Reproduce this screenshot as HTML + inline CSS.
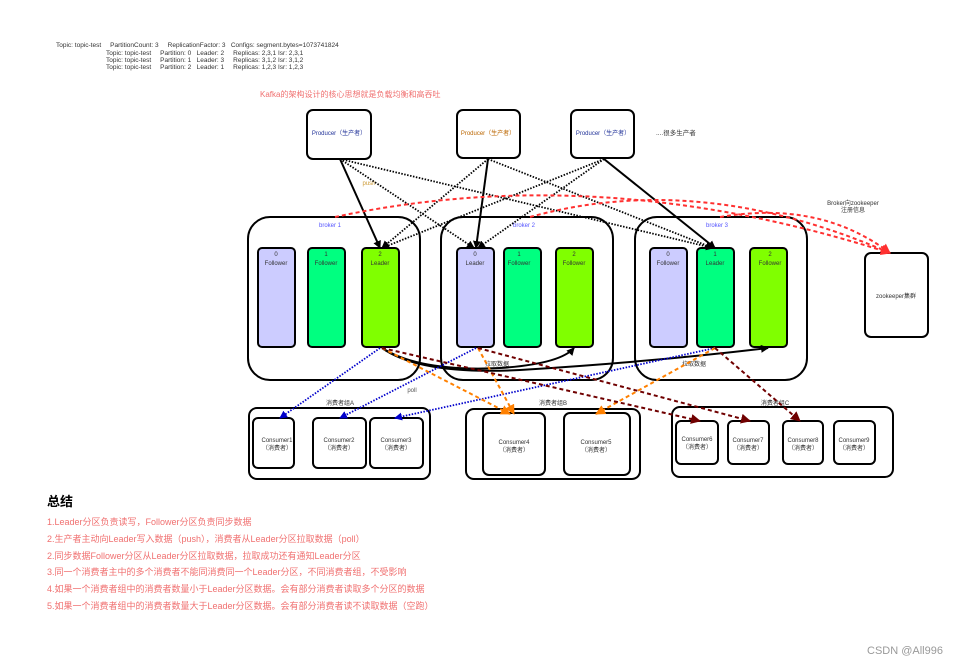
<!DOCTYPE html>
<html><head><meta charset="utf-8"><style>
body{margin:0;background:#fff;width:960px;height:666px;overflow:hidden;font-family:"Liberation Sans","Noto Sans CJK SC",sans-serif}
svg text{font-family:"Liberation Sans","Noto Sans CJK SC",sans-serif}
.note{position:absolute;left:47px;color:#f07070;font-size:9px}
</style></head><body>
<svg width="960" height="666" style="position:absolute;left:0;top:0">
<defs>
<marker id="ak" markerWidth="8" markerHeight="8" refX="7" refY="4" orient="auto" markerUnits="userSpaceOnUse"><path d="M0,0L8,4L0,8z" fill="#000"/></marker>
<marker id="ab" markerWidth="8" markerHeight="8" refX="7" refY="4" orient="auto" markerUnits="userSpaceOnUse"><path d="M0,0L8,4L0,8z" fill="#0000cc"/></marker>
<marker id="ao" markerWidth="10" markerHeight="10" refX="9" refY="5" orient="auto" markerUnits="userSpaceOnUse"><path d="M0,0L10,5L0,10z" fill="#ff8000"/></marker>
<marker id="ar" markerWidth="10" markerHeight="10" refX="9" refY="5" orient="auto" markerUnits="userSpaceOnUse"><path d="M0,0L10,5L0,10z" fill="#700000"/></marker>
<marker id="aR" markerWidth="10" markerHeight="10" refX="9" refY="5" orient="auto" markerUnits="userSpaceOnUse"><path d="M0,0L10,5L0,10z" fill="#ff3030"/></marker>
</defs>
<g font-size="6.5" fill="#333">
<text x="56" y="47">Topic: topic-test &#160;&#160;&#160; PartitionCount: 3 &#160;&#160;&#160; ReplicationFactor: 3 &#160; Configs: segment.bytes=1073741824</text>
<text x="106" y="55">Topic: topic-test &#160;&#160;&#160; Partition: 0 &#160; Leader: 2 &#160;&#160;&#160; Replicas: 2,3,1 Isr: 2,3,1</text>
<text x="106" y="62">Topic: topic-test &#160;&#160;&#160; Partition: 1 &#160; Leader: 3 &#160;&#160;&#160; Replicas: 3,1,2 Isr: 3,1,2</text>
<text x="106" y="69">Topic: topic-test &#160;&#160;&#160; Partition: 2 &#160; Leader: 1 &#160;&#160;&#160; Replicas: 1,2,3 Isr: 1,2,3</text>
</g>
<text x="260" y="97" font-size="8" fill="#f07070">Kafka的架构设计的核心思想就是负载均衡和高吞吐</text>
<g fill="#fff" stroke="#000" stroke-width="2">
<rect x="307" y="110" width="64" height="49" rx="6"/>
<rect x="457" y="110" width="63" height="48" rx="6"/>
<rect x="571" y="110" width="63" height="48" rx="6"/>
<rect x="248" y="217" width="172" height="163" rx="22"/>
<rect x="441" y="217" width="172" height="163" rx="22"/>
<rect x="635" y="217" width="172" height="163" rx="22"/>
<rect x="865" y="253" width="63" height="84" rx="6"/>
<rect x="249" y="408" width="181" height="71" rx="8"/>
<rect x="466" y="409" width="174" height="70" rx="8"/>
<rect x="672" y="407" width="221" height="70" rx="8"/>
<rect x="253" y="418" width="41" height="50" rx="5"/>
<rect x="313" y="418" width="53" height="50" rx="5"/>
<rect x="370" y="418" width="53" height="50" rx="5"/>
<rect x="483" y="413" width="62" height="62" rx="6"/>
<rect x="564" y="413" width="66" height="62" rx="6"/>
<rect x="676" y="421" width="42" height="43" rx="5"/>
<rect x="728" y="421" width="41" height="43" rx="5"/>
<rect x="783" y="421" width="40" height="43" rx="5"/>
<rect x="834" y="421" width="41" height="43" rx="5"/>
</g>
<g stroke="#000" stroke-width="2">
<rect x="258" y="248" width="37" height="99" rx="4" fill="#ccccff"/>
<rect x="308" y="248" width="37" height="99" rx="4" fill="#00ff80"/>
<rect x="362" y="248" width="37" height="99" rx="4" fill="#80ff00"/>
<rect x="457" y="248" width="37" height="99" rx="4" fill="#ccccff"/>
<rect x="504" y="248" width="37" height="99" rx="4" fill="#00ff80"/>
<rect x="556" y="248" width="37" height="99" rx="4" fill="#80ff00"/>
<rect x="650" y="248" width="37" height="99" rx="4" fill="#ccccff"/>
<rect x="697" y="248" width="37" height="99" rx="4" fill="#00ff80"/>
<rect x="750" y="248" width="37" height="99" rx="4" fill="#80ff00"/>
</g>
<g font-size="6" fill="#333" text-anchor="middle">
<text x="276" y="256">0</text><text x="276" y="265">Follower</text>
<text x="326" y="256">1</text><text x="326" y="265">Follower</text>
<text x="380" y="256">2</text><text x="380" y="265">Leader</text>
<text x="475" y="256">0</text><text x="475" y="265">Leader</text>
<text x="519" y="256">1</text><text x="519" y="265">Follower</text>
<text x="574" y="256">2</text><text x="574" y="265">Follower</text>
<text x="668" y="256">0</text><text x="668" y="265">Follower</text>
<text x="715" y="256">1</text><text x="715" y="265">Leader</text>
<text x="770" y="256">2</text><text x="770" y="265">Follower</text>
<text x="339" y="135" fill="#223399">Producer（生产者）</text>
<text x="488" y="135" fill="#bb6600">Producer（生产者）</text>
<text x="603" y="135" fill="#223399">Producer（生产者）</text>
<text x="330" y="227" fill="#5555ff">broker 1</text>
<text x="524" y="227" fill="#5555ff">broker 2</text>
<text x="717" y="227" fill="#5555ff">broker 3</text>
<text x="896" y="298">zookeeper集群</text>
<text x="853" y="205">Broker向zookeeper</text><text x="853" y="212">注册信息</text>
<text x="340" y="405">消费者组A</text><text x="553" y="405">消费者组B</text><text x="775" y="405">消费者组C</text>
<text x="412" y="392" fill="#555">poll</text>
<text x="369" y="185" fill="#cc9933">push</text>
<text x="497" y="366">拉取数据</text><text x="694" y="366">拉取数据</text>
<text x="277" y="442">Consumer1</text><text x="277" y="450">（消费者）</text>
<text x="339" y="442">Consumer2</text><text x="339" y="450">（消费者）</text>
<text x="396" y="442">Consumer3</text><text x="396" y="450">（消费者）</text>
<text x="514" y="444">Consumer4</text><text x="514" y="452">（消费者）</text>
<text x="596" y="444">Consumer5</text><text x="596" y="452">（消费者）</text>
<text x="697" y="441">Consumer6</text><text x="697" y="449">（消费者）</text>
<text x="748" y="442">Consumer7</text><text x="748" y="450">（消费者）</text>
<text x="803" y="442">Consumer8</text><text x="803" y="450">（消费者）</text>
<text x="854" y="442">Consumer9</text><text x="854" y="450">（消费者）</text>
</g>
<text x="656" y="135" font-size="6.5" fill="#333">....很多生产者</text>
<g fill="none" stroke="#000" stroke-width="1.8" stroke-dasharray="1.5,1.5">
<path d="M340,159L474,248" marker-end="url(#ak)"/><path d="M340,159L713,248" marker-end="url(#ak)"/>
<path d="M488,159L382,248" marker-end="url(#ak)"/><path d="M488,159L713,248" marker-end="url(#ak)"/>
<path d="M604,159L382,248" marker-end="url(#ak)"/><path d="M604,159L478,248" marker-end="url(#ak)"/>
</g>
<g fill="none" stroke="#000" stroke-width="2">
<path d="M340,159L380,248" marker-end="url(#ak)"/><path d="M488,159L476,248" marker-end="url(#ak)"/><path d="M604,159L715,248" marker-end="url(#ak)"/>
<path d="M382,348Q420,372 500,368Q560,364 574,348" marker-end="url(#ak)"/>
<path d="M382,348Q420,375 520,370Q650,362 768,348" marker-end="url(#ak)"/>
</g>
<g fill="none" stroke="#ff3030" stroke-width="2" stroke-dasharray="4,3">
<path d="M335,217Q600,160 890,253" marker-end="url(#aR)"/>
<path d="M530,217Q700,170 890,253" marker-end="url(#aR)"/>
<path d="M720,217Q820,200 890,253" marker-end="url(#aR)"/>
</g>
<g fill="none" stroke="#0000cc" stroke-width="1.8" stroke-dasharray="1.5,1.5">
<path d="M380,348L280,418" marker-end="url(#ab)"/><path d="M476,348L340,418" marker-end="url(#ab)"/><path d="M715,348L395,418" marker-end="url(#ab)"/>
</g>
<g fill="none" stroke="#ff8000" stroke-width="2" stroke-dasharray="4,3">
<path d="M382,348L510,414" marker-end="url(#ao)"/><path d="M478,348L514,414" marker-end="url(#ao)"/><path d="M715,348L596,414" marker-end="url(#ao)"/>
</g>
<g fill="none" stroke="#700000" stroke-width="2" stroke-dasharray="4,3">
<path d="M382,348L700,421" marker-end="url(#ar)"/><path d="M478,348L750,421" marker-end="url(#ar)"/><path d="M715,348L800,421" marker-end="url(#ar)"/>
</g>
</svg>
<div style="position:absolute;left:47px;top:491px;font-size:13px;font-weight:bold">总结</div>
<div class="note" style="top:515px">1.Leader分区负责读写，Follower分区负责同步数据</div>
<div class="note" style="top:532px">2.生产者主动向Leader写入数据（push），消费者从Leader分区拉取数据（poll）</div>
<div class="note" style="top:549px">2.同步数据Follower分区从Leader分区拉取数据，拉取成功还有通知Leader分区</div>
<div class="note" style="top:565px">3.同一个消费者主中的多个消费者不能同消费同一个Leader分区，不同消费者组，不受影响</div>
<div class="note" style="top:582px">4.如果一个消费者组中的消费者数量小于Leader分区数据。会有部分消费者读取多个分区的数据</div>
<div class="note" style="top:599px">5.如果一个消费者组中的消费者数量大于Leader分区数据。会有部分消费者读不读取数据（空跑）</div>
<div style="position:absolute;left:867px;top:645px;font-size:11px;color:#999">CSDN @All996</div>
</body></html>
